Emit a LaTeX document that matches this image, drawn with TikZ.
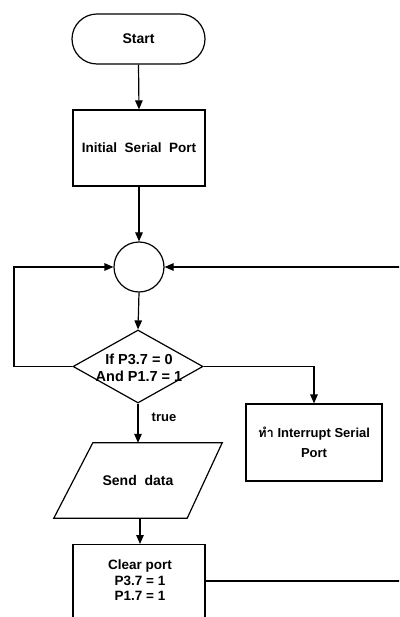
\documentclass[tikz,border=0pt]{standalone}
\usepackage{fontspec}
\setmainfont{Liberation Sans}
\newfontfamily\thaifont[Script=Thai]{Loma}
\usetikzlibrary{arrows.meta,shapes.geometric,calc}
\tikzset{
  box/.style={draw,line width=1.2pt,rectangle,inner sep=0pt,align=center},
  txt/.style={align=center,inner sep=0pt,font=\fontsize{13.5}{16}\selectfont\bfseries},
  conn/.style={line width=1.2pt,-{Triangle[length=9pt,width=7.5pt]}},
}
\begin{document}
\begin{tikzpicture}[x=1pt,y=-1pt]
\useasboundingbox (0,0) rectangle (399,617);
\clip (0,0) rectangle (399,617);
% Start
\node[box,rounded corners=25pt,minimum width=133pt,minimum height=50pt,txt,font=\fontsize{14}{16}\selectfont\bfseries] (start) at (138.5,39) {Start};
% Initial
\node[box,minimum width=132pt,minimum height=76pt,txt] (init) at (139,148) {Initial\ \ Serial\ \ Port};
% connector circle
\node[draw,line width=1.2pt,circle,minimum size=50pt,inner sep=0pt] (jn) at (139,267) {};
% decision
\node[draw,line width=1.2pt,diamond,minimum width=130pt,minimum height=73pt,inner sep=0pt] (dec) at (138,366.5) {};
\node[txt,font=\fontsize{14.5}{17}\selectfont\bfseries] (dect) at (139,368) {If P3.7 = 0\\And P1.7 = 1};
% interrupt box
\node[box,minimum width=136pt,minimum height=77pt,txt,font=\fontsize{13}{20}\selectfont\bfseries] (intr) at (314,442.5) {{\thaifont ทำ} Interrupt Serial\\Port};
% send data parallelogram
\node[inner sep=0pt,minimum width=168pt,minimum height=75pt,txt,font=\fontsize{14}{16}\selectfont\bfseries] (para) at (138,480.5) {Send\ \ data};
\draw[line width=1.2pt] ($(para.north west)+(39,0)$) -- (para.north east) -- ($(para.south east)+(-35,0)$) -- (para.south west) -- cycle;
% clear box
\node[box,minimum width=132pt,minimum height=90pt,anchor=north] (clear) at (139,544) {};
\node[txt,font=\fontsize{13.5}{15.5}\selectfont\bfseries,anchor=north] (cleart) at (140,560) {Clear port\\P3.7 = 1\\P1.7 = 1};
% label
\node[txt,font=\fontsize{13}{15}\selectfont\bfseries] (truelbl) at (164,417) {true};
% connectors
\draw[conn] (start.south) -- (init.north);
\draw[conn] (init.south) -- (jn.north);
\draw[conn] (jn.south) -- (dec.north);
\coordinate (lft) at (14,366.5);
\draw[conn] (dec.west) -- (lft) |- (jn.west);
\coordinate (rgt) at (314,366.5);
\draw[conn] (dec.east) -- (rgt) -- (intr.north);
\draw[conn] (dec.south) -- (para.north -| dec.south);
\draw[conn] (para.south -| 140,0) -- (clear.north -| 140,0);
\coordinate (clrR) at ($(clear.north east)+(0,37)$);
\coordinate (farR) at (402,581);
\draw[conn] (clrR) -- (farR) |- (jn.east);
\end{tikzpicture}
\end{document}
